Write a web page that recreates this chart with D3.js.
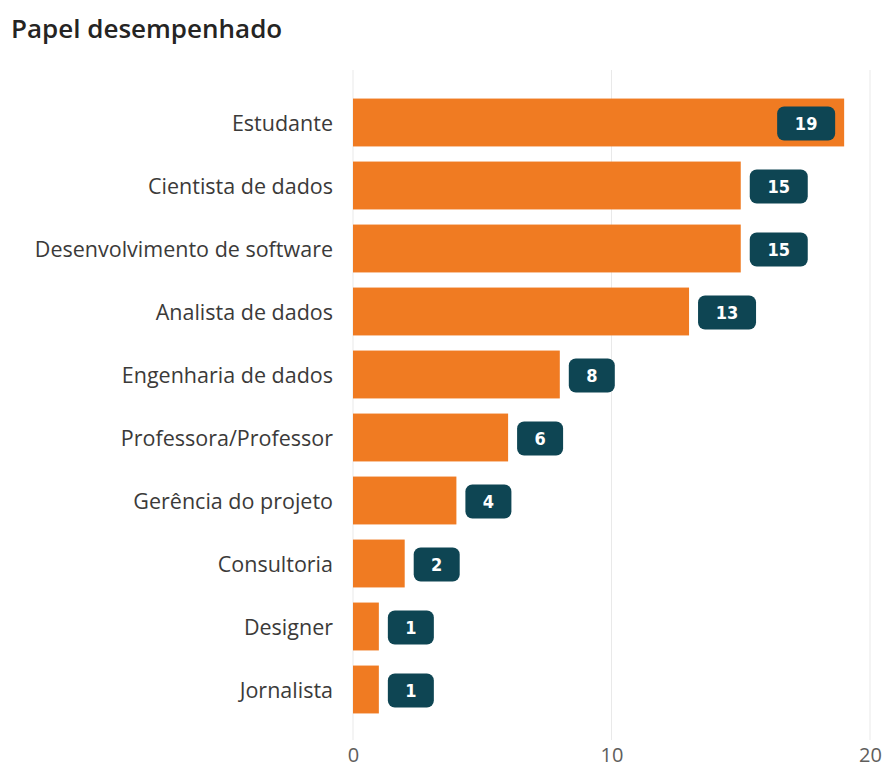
<!DOCTYPE html>
<html>
<head>
<meta charset="utf-8">
<script src="https://cdn.jsdelivr.net/npm/d3@7"></script>
<style>
  body { margin: 0; background: #fff; }
  svg { display: block; }
</style>
</head>
<body>
<svg id="chart" width="885" height="772"></svg>
<script>
// Roles and how many respondents picked each one
const categories = [
  "Estudante",
  "Cientista de dados",
  "Desenvolvimento de software",
  "Analista de dados",
  "Engenharia de dados",
  "Professora/Professor",
  "Gerência do projeto",
  "Consultoria",
  "Designer",
  "Jornalista"
];
const counts = [19, 15, 15, 13, 8, 6, 4, 2, 1, 1];
const tickValues = [0, 10, 20];

const svg = d3.select("#chart");
const W = 885, H = 772;
const margin = { left: 353, right: 15, top: 91, bottom: 51 };

const x = d3.scaleLinear().domain([0, 20]).range([margin.left, W - margin.right]);
const y = d3.scaleBand()
  .domain(categories)
  .range([margin.top, H - margin.bottom])
  .paddingInner(0.24)
  .paddingOuter(0.12);

// Title
svg.append("text")
  .attr("x", 11).attr("y", 38)
  .attr("font-family", "'Open Sans', sans-serif")
  .attr("font-weight", 600)
  .attr("font-size", 26)
  .attr("fill", "#252423")
  .text("Papel desempenhado");

// Vertical gridlines
svg.append("g")
  .selectAll("line")
  .data(tickValues)
  .join("line")
  .attr("x1", d => x(d)).attr("x2", d => x(d))
  .attr("y1", 70).attr("y2", 740)
  .attr("stroke", "#e9e9e9")
  .attr("stroke-width", 1);

// Bottom axis labels
const xAxis = d3.axisBottom(x).tickValues(tickValues).tickSize(0).tickPadding(0);
const gx = svg.append("g").attr("transform", `translate(0, 748)`).call(xAxis);
gx.select(".domain").remove();
gx.selectAll("text")
  .attr("font-family", "'Open Sans', sans-serif")
  .attr("font-size", 20)
  .attr("fill", "#605e5c");

// Category labels
const yAxis = d3.axisLeft(y).tickSize(0).tickPadding(20);
const gy = svg.append("g").attr("transform", `translate(${margin.left}, 2)`).call(yAxis);
gy.select(".domain").remove();
gy.selectAll("text")
  .attr("font-family", "'Open Sans', sans-serif")
  .attr("font-size", 21.5)
  .attr("fill", "#3b3a39");

const rows = categories.map((c, i) => ({ cat: c, value: counts[i] }));

// Bars
svg.append("g")
  .selectAll("rect")
  .data(rows)
  .join("rect")
  .attr("x", x(0))
  .attr("y", d => y(d.cat))
  .attr("width", d => x(d.value) - x(0))
  .attr("height", y.bandwidth())
  .attr("fill", "#f07b22");

// Value badges
const badgeH = 34;
const badges = svg.append("g")
  .selectAll("g")
  .data(rows)
  .join("g")
  .attr("transform", d => {
    const w = String(d.value).length > 1 ? 58 : 46;
    const end = x(d.value);
    const bx = end + 9 + w > W - margin.right ? end - 9 - w : end + 9;
    d.bw = w;
    return `translate(${bx}, ${y(d.cat) + y.bandwidth() / 2 - badgeH / 2 + 1})`;
  });

badges.append("rect")
  .attr("width", d => d.bw)
  .attr("height", badgeH)
  .attr("rx", 7)
  .attr("fill", "#0e4553");

badges.append("text")
  .attr("x", d => d.bw / 2)
  .attr("y", badgeH / 2)
  .attr("dy", "0.36em")
  .attr("text-anchor", "middle")
  .attr("font-family", "'DejaVu Sans Condensed', 'DejaVu Sans', sans-serif")
  .attr("font-weight", "bold")
  .attr("font-size", 18)
  .attr("fill", "#ffffff")
  .text(d => d.value);
</script>
</body>
</html>
